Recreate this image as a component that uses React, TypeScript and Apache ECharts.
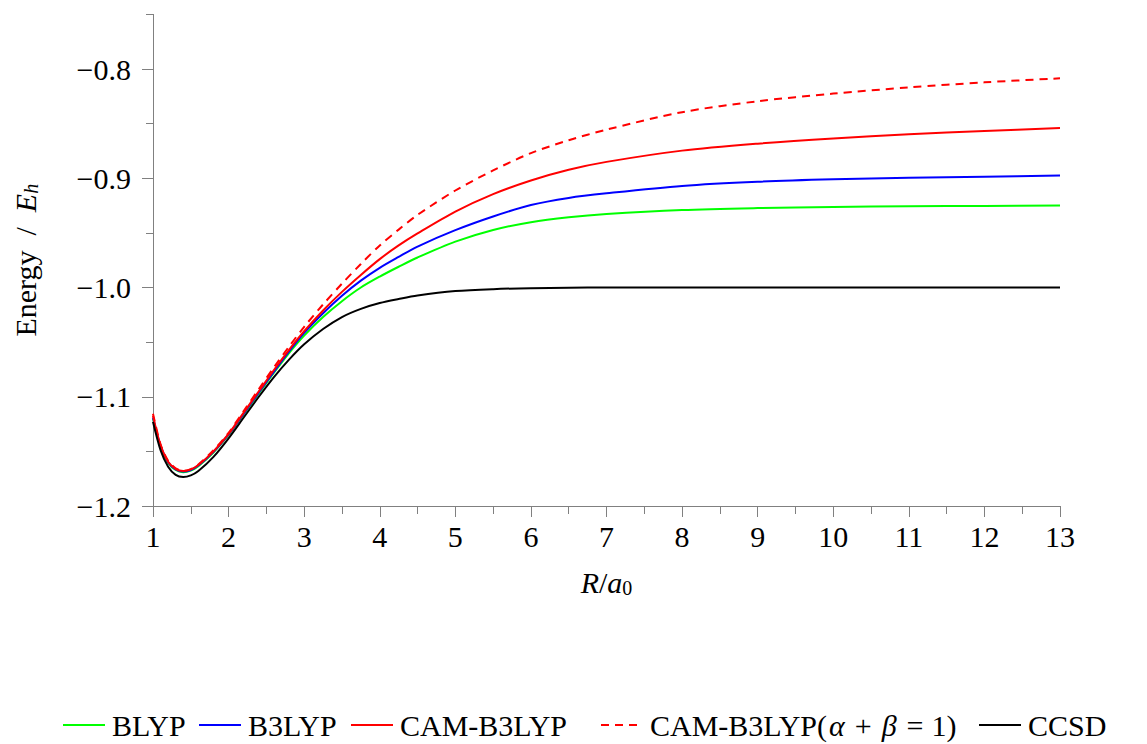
import { useEffect, useRef } from 'react';
import * as echarts from 'echarts';

// Bond length R / a0
const R = [1.0, 1.1, 1.2, 1.3, 1.4, 1.5, 1.6, 1.8, 2.0, 2.2, 2.4, 2.6, 2.8, 3.0, 3.25, 3.5, 3.75, 4.0, 4.25, 4.5, 5.0, 5.5, 6.0, 6.5, 7, 8, 9, 10, 11, 12, 13];

const BLYP = [-1.12, -1.146, -1.1605, -1.167, -1.169, -1.1675, -1.1635, -1.151, -1.135, -1.116, -1.097, -1.078, -1.06, -1.044, -1.027, -1.0125, -1.0, -0.99, -0.981, -0.9725, -0.958, -0.9473, -0.9402, -0.9357, -0.9327, -0.9291, -0.9273, -0.9262, -0.9256, -0.9253, -0.925];
const B3LYP = [-1.119, -1.145, -1.16, -1.1665, -1.1685, -1.167, -1.163, -1.1505, -1.1345, -1.1155, -1.096, -1.077, -1.0585, -1.0415, -1.0235, -1.0075, -0.9937, -0.982, -0.972, -0.9625, -0.9475, -0.935, -0.9245, -0.918, -0.9138, -0.907, -0.9032, -0.901, -0.8996, -0.8985, -0.8975];
const CAM_B3LYP = [-1.1175, -1.1445, -1.1595, -1.166, -1.168, -1.1665, -1.1625, -1.15, -1.134, -1.1145, -1.095, -1.0755, -1.057, -1.04, -1.021, -1.004, -0.9885, -0.974, -0.9615, -0.9505, -0.9305, -0.9145, -0.902, -0.8922, -0.885, -0.8747, -0.8683, -0.8635, -0.8597, -0.8567, -0.854];
const CAM_B3LYP_AB1 = [-1.1155, -1.1435, -1.1585, -1.1655, -1.1678, -1.1663, -1.162, -1.149, -1.133, -1.113, -1.093, -1.073, -1.054, -1.036, -1.0155, -0.9965, -0.9785, -0.9615, -0.947, -0.9335, -0.9112, -0.8928, -0.877, -0.8652, -0.8555, -0.8395, -0.8295, -0.8225, -0.8168, -0.8122, -0.8085];
const CCSD = [-1.123, -1.149, -1.164, -1.1715, -1.1735, -1.172, -1.168, -1.155, -1.138, -1.119, -1.1, -1.082, -1.066, -1.052, -1.038, -1.027, -1.0195, -1.0142, -1.0105, -1.0073, -1.0033, -1.0015, -1.0006, -1.0002, -1.0, -1.0, -1.0, -1.0, -1.0, -1.0, -1.0];

const SERIES_NAMES = ['BLYP', 'B3LYP', 'CAM-B3LYP', 'CAM-B3LYP(α + β = 1)', 'CCSD'];
const SERIES_VALUES = [BLYP, B3LYP, CAM_B3LYP, CAM_B3LYP_AB1, CCSD];
const SERIES_COLORS = ['#00ff00', '#0000ff', '#ff0000', '#ff0000', '#000000'];

const Y_MAJOR_TICKS = [-1.2, -1.1, -1.0, -0.9, -0.8];
const Y_MINOR_TICKS = [-1.15, -1.05, -0.95, -0.85, -0.75];

// layout
const LEGEND_LEFT = [62, 198, 350, 600, 978];
const FONT = "'Liberation Serif', 'Times New Roman', serif";
const FS = 30;
const AXIS_COLOR = '#808080';

export default function App() {
  const ref = useRef<HTMLDivElement>(null);

  useEffect(() => {
    const chart = echarts.init(ref.current!, null, { renderer: 'svg' });
    const rich = {
      t: { fontFamily: FONT, fontSize: FS, color: '#000', lineHeight: 32 },
      i: { fontFamily: FONT, fontSize: FS, color: '#000', fontStyle: 'italic', lineHeight: 32 },
      m: { fontFamily: FONT, fontSize: FS, color: '#000', fontStyle: 'italic', lineHeight: 32, padding: [0, 2, 0, 2] },
      o: { fontFamily: FONT, fontSize: FS, color: '#000', lineHeight: 32, padding: [0, 8, 0, 8] },
      s: { fontFamily: FONT, fontSize: 20, color: '#000', lineHeight: 19, verticalAlign: 'bottom' },
      si: { fontFamily: FONT, fontSize: 20, color: '#000', fontStyle: 'italic', lineHeight: 19, verticalAlign: 'bottom' },
    };

    chart.setOption({
      animation: false,
      backgroundColor: '#ffffff',
      grid: { left: 153, right: 87, top: 14.4, bottom: 238, containLabel: false },
      xAxis: {
        type: 'value',
        min: 1,
        max: 13,
        interval: 1,
        axisLine: { show: true, lineStyle: { color: AXIS_COLOR, width: 1 } },
        axisTick: { show: true, length: 11, lineStyle: { color: AXIS_COLOR, width: 1 } },
        minorTick: { show: true, splitNumber: 2, length: 8, lineStyle: { color: AXIS_COLOR, width: 1 } },
        splitLine: { show: false },
        minorSplitLine: { show: false },
        axisLabel: { fontFamily: FONT, fontSize: FS, color: '#000', margin: 15 },
        name: '{i|R}{t|/}{i|a}{s|0}',
        nameLocation: 'middle',
        nameGap: 60,
        nameTextStyle: { rich },
      },
      yAxis: [
        {
          type: 'value',
          min: -1.2,
          max: -0.75,
          position: 'left',
          axisLine: { show: true, lineStyle: { color: AXIS_COLOR, width: 1 } },
          axisTick: { show: true, length: 11, customValues: Y_MAJOR_TICKS, lineStyle: { color: AXIS_COLOR, width: 1 } },
          axisLabel: {
            customValues: Y_MAJOR_TICKS,
            fontFamily: FONT,
            fontSize: FS,
            color: '#000',
            margin: 22,
            formatter: (v: number) => v.toFixed(1).replace('-', '\u2212'),
          },
          splitLine: { show: false },
          name: '{t|Energy  /  }{i|E}{si|h}',
          nameLocation: 'middle',
          nameRotate: 90,
          nameGap: 112,
          nameTextStyle: { rich },
        },
        {
          type: 'value',
          min: -1.2,
          max: -0.75,
          position: 'left',
          offset: 0,
          axisLine: { show: false },
          axisTick: { show: true, length: 7, customValues: Y_MINOR_TICKS, lineStyle: { color: AXIS_COLOR, width: 1 } },
          axisLabel: { show: false },
          splitLine: { show: false },
        },
      ],
      legend: SERIES_NAMES.map((name, k) => ({
        left: LEGEND_LEFT[k],
        top: 710,
        padding: 0,
        itemWidth: 42,
        itemHeight: 14,
        itemStyle: { opacity: 0 },
        data: [name],
        formatter: (n: string) =>
          n === 'CAM-B3LYP(α + β = 1)'
            ? '{t|CAM-B3LYP(}{m|α}{o|+}{m|β}{o|=}{t|1)}'
            : '{t|' + n + '}',
        textStyle: { fontFamily: FONT, fontSize: FS, color: '#000', padding: [0, 0, 0, 2], rich },
      })),
      series: SERIES_NAMES.map((name, k) => ({
        name,
        type: 'line',
        xAxisIndex: 0,
        yAxisIndex: 0,
        data: R.map((r, i) => [r, SERIES_VALUES[k][i]]),
        symbol: 'none',
        smooth: 0.3,
        lineStyle: {
          color: SERIES_COLORS[k],
          width: 2,
          type: k === 3 ? [8, 6] : 'solid',
        },
        itemStyle: { color: SERIES_COLORS[k] },
        z: k === 4 ? 3 : 2 + k * 0.1,
      })),
    });

    return () => chart.dispose();
  }, []);

  return (
    <div
      ref={ref}
      style={{ position: 'fixed', left: 0, top: 0, width: 1147, height: 744, background: '#fff' }}
    />
  );
}
